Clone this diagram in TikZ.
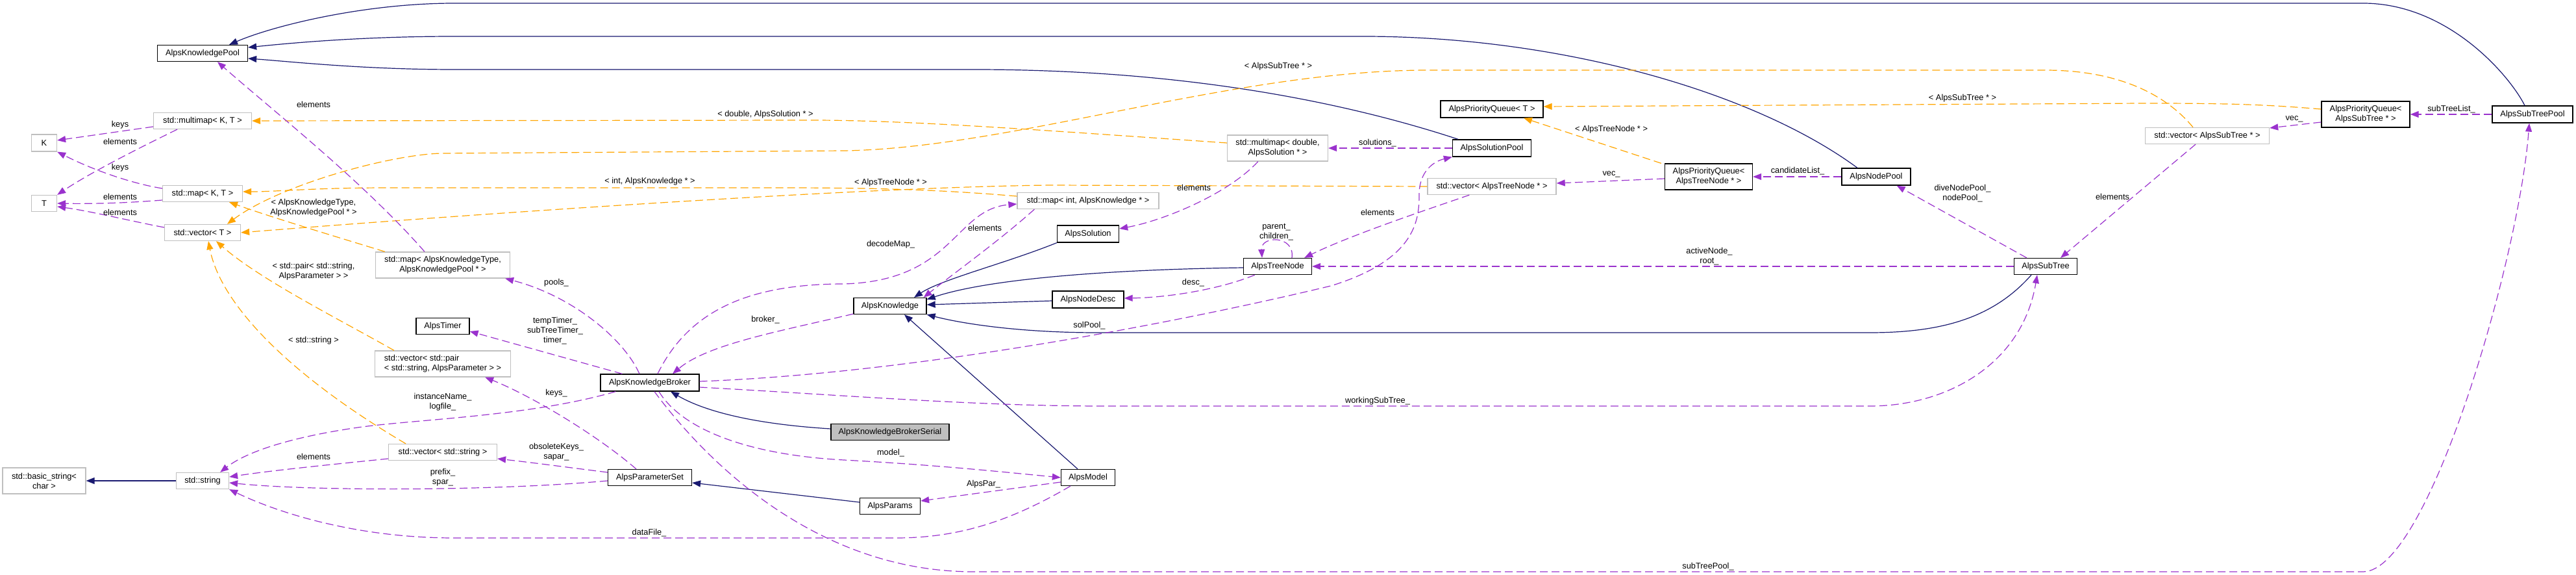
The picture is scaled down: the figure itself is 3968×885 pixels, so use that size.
\documentclass[tikz,border=0pt]{standalone}
\usepackage{fontspec}
\setmainfont{Liberation Sans}
\usepackage{tikz}
\usetikzlibrary{arrows.meta, calc}
\definecolor{inhblue}{HTML}{191970}
\definecolor{usepurple}{HTML}{9A32CD}
\definecolor{tplorange}{HTML}{FFA500}
\definecolor{stdgray}{HTML}{BFBFBF}
\newcommand{\dxfont}{\fontsize{12.8}{15}\selectfont}
\tikzset{
	classbox/.style={draw=black, line width=1.3pt, inner sep=0pt, minimum height=25pt, font=\dxfont, align=center}
}
\tikzset{
	stdbox/.style={classbox, draw=stdgray}
}
\tikzset{
	edgetext/.style={font=\dxfont, inner sep=0pt, align=center}
}
\tikzset{
  inherit/.style={draw=inhblue, line width=1.2pt, -{Triangle[length=13pt,width=10pt]}},
  member/.style={draw=usepurple, line width=1.2pt, dash pattern=on 12pt off 6pt, -{Triangle[length=13pt,width=10pt]}},
  templ/.style={draw=tplorange, line width=1.2pt, dash pattern=on 12pt off 6pt, -{Triangle[length=13pt,width=10pt]}}
}

\begin{document}
\begin{tikzpicture}[x=1pt, y=-1pt]
      \useasboundingbox (0,0) rectangle (3968,885);
      \node[classbox, minimum width=139pt] (kpool) at (312,82) {AlpsKnowledgePool};
      \node[stdbox, minimum width=151pt] (mmKT) at (312,186) {std::multimap< K, T >};
      \node[stdbox, minimum width=39pt, minimum height=26pt] (K) at (68,220) {K};
      \node[stdbox, minimum width=39pt] (T) at (68,313) {T};
      \node[stdbox, minimum width=123pt] (mapKT) at (312,298) {std::map< K, T >};
      \node[stdbox, minimum width=117pt] (vecT) at (312,358) {std::vector< T >};
      \node[stdbox, minimum width=207pt, minimum height=40pt] (mapKP) at (682,408) {std::map< AlpsKnowledgeType,\\AlpsKnowledgePool * >};
      \node[stdbox, minimum width=128pt, minimum height=40pt] (bstr) at (68,740) {std::basic\_string<\\char >};
      \node[stdbox, minimum width=81pt] (str) at (312,740) {std::string};
      \node[classbox, minimum width=82pt] (timer) at (682,502) {AlpsTimer};
      \node[stdbox, minimum width=209pt, minimum height=40pt, align=left] (vecPair) at (682,560) {std::vector< std::pair\\< std::string, AlpsParameter > >};
      \node[stdbox, minimum width=167pt] (vecStr) at (682,696) {std::vector< std::string >};
      \node[classbox, minimum width=152pt, minimum height=26pt] (broker) at (1001,589) {AlpsKnowledgeBroker};
      \node[classbox, minimum width=129pt] (pset) at (1001,735) {AlpsParameterSet};
      \node[classbox, minimum width=112pt] (know) at (1371,471) {AlpsKnowledge};
      \node[classbox, minimum width=182pt, fill=stdgray] (serial) at (1371,665) {AlpsKnowledgeBrokerSerial};
      \node[classbox, minimum width=93pt] (params) at (1371,779) {AlpsParams};
      \node[stdbox, minimum width=218pt] (mapInt) at (1676,309) {std::map< int, AlpsKnowledge * >};
      \node[classbox, minimum width=95pt, minimum height=26pt] (sol) at (1676,360) {AlpsSolution};
      \node[classbox, minimum width=110pt, minimum height=26pt] (ndesc) at (1676,461) {AlpsNodeDesc};
      \node[classbox, minimum width=83pt] (model) at (1676,735) {AlpsModel};
      \node[stdbox, minimum width=155pt, minimum height=40pt] (mmDbl) at (1968,228) {std::multimap< double,\\AlpsSolution * >};
      \node[classbox, minimum width=105pt] (tnode) at (1968,410) {AlpsTreeNode};
      \node[classbox, minimum width=158pt, minimum height=26pt] (pqT) at (2298,168) {AlpsPriorityQueue< T >};
      \node[classbox, minimum width=121pt, minimum height=26pt] (solpool) at (2298,228) {AlpsSolutionPool};
      \node[stdbox, minimum width=198pt] (vecTN) at (2298,287) {std::vector< AlpsTreeNode * >};
      \node[classbox, minimum width=135pt, minimum height=40pt] (pqTN) at (2632,272) {AlpsPriorityQueue<\\AlpsTreeNode * >};
      \node[classbox, minimum width=106pt, minimum height=26pt] (npool) at (2890,272) {AlpsNodePool};
      \node[classbox, minimum width=97pt] (subtree) at (3151,410) {AlpsSubTree};
      \node[stdbox, minimum width=191pt] (vecST) at (3400,209) {std::vector< AlpsSubTree * >};
      \node[classbox, minimum width=136pt, minimum height=40pt] (pqST) at (3644,176) {AlpsPriorityQueue<\\AlpsSubTree * >};
      \node[classbox, minimum width=124pt, minimum height=26pt] (stpool) at (3901,176) {AlpsSubTreePool};
      % base classes
      \draw[inherit] ($(stpool.north)+(-12,0)$) .. controls (3865,115) and (3770,5) .. (3640,5) -- (700,5) .. controls (560,5) and (420,40) .. ($(kpool.north)+(41,0)$);
      \draw[inherit] ($(npool.north)+(-29,0)$) .. controls (2700,140) and (2400,56) .. (2100,56) -- (700,56) .. controls (560,56) and (450,66) .. ($(kpool.east)+(0,-9)$);
      \draw[inherit] ($(solpool.north)+(-52,0)$) .. controls (2050,150) and (1800,107) .. (1500,107) -- (700,107) .. controls (560,107) and (450,95) .. ($(kpool.east)+(0,8)$);
      \draw[inherit] ($(serial.west)+(0,-5)$) .. controls (1150,652) and (1080,630) .. ($(broker.south)+(32,0)$);
      \draw[inherit] ($(params.west)+(0,-6)$) -- ($(pset.east)+(0,8)$);
      \draw[inherit] ($(model.north)+(-16,0)$) -- ($(know.south)+(22,0)$);
      \draw[inherit] (sol.south west) .. controls (1550,405) and (1450,430) .. ($(know.north)+(37,0)$);
      \draw[inherit] ($(tnode.west)+(0,2)$) .. controls (1700,415) and (1520,430) .. ($(know.north east)+(0,3)$);
      \draw[inherit] ($(ndesc.west)+(0,2)$) -- ($(know.east)+(0,-2)$);
      \draw[inherit] ($(subtree.south)+(-22,0)$) .. controls (3070,490) and (2990,512) .. (2880,512) -- (1690,512) .. controls (1580,512) and (1490,500) .. (know.south east);
      \draw[inherit] (str.west) -- (bstr.east);
      % template instances
      \draw[templ] ($(mmDbl.west)+(0,-8)$) .. controls (1600,200) and (1400,185) .. (1250,185) -- (mmKT.east);
      \draw[templ] ($(mapInt.west)+(0,-7)$) .. controls (1450,292) and (1350,289) .. (1200,289) -- (600,289) .. controls (480,289) and (430,295) .. ($(mapKT.east)+(0,-3)$);
      \draw[templ] (vecTN.west) -- (1620,285) .. controls (1300,288) and (620,338) .. (vecT.east);
      \draw[templ] ($(vecST.north)+(-22,0)$) .. controls (3340,150) and (3270,108) .. (3150,108) -- (2200,108) .. controls (1900,108) and (1560,228) .. (1300,232) -- (680,236) .. controls (600,238) and (430,285) .. ($(vecT.north)+(38,0)$);
      \draw[templ] ($(vecPair.north)+(-75,0)$) .. controls (520,490) and (400,430) .. ($(vecT.south)+(21,0)$);
      \draw[templ] ($(vecStr.north)+(-57,0)$) .. controls (450,580) and (340,470) .. ($(vecT.south)+(9,0)$);
      \draw[templ] ($(mapKP.north west)+(15,0)$) .. controls (520,365) and (420,335) .. ($(mapKT.south)+(41,0)$);
      \draw[templ] ($(pqTN.north west)+(-5,0)$) -- ($(pqT.south)+(49,0)$);
      \draw[templ] ($(pqST.west)+(0,-8)$) .. controls (3480,160) and (3420,159) .. (3300,159) -- ($(pqT.east)+(0,-4)$);
      % members
      \draw[member] ($(mmKT.west)+(0,9)$) -- ($(K.east)+(0,-4)$);
      \draw[member] ($(mmKT.south)+(-39,0)$) .. controls (220,225) and (140,265) .. (T.north east);
      \draw[member] ($(mapKT.west)+(0,-8)$) .. controls (200,282) and (140,260) .. (K.south east);
      \draw[member] ($(mapKT.west)+(0,10)$) .. controls (200,312) and (150,314) .. (T.east);
      \draw[member] ($(vecT.west)+(0,-8)$) .. controls (200,340) and (140,325) .. ($(T.east)+(0,5)$);
      \draw[member] ($(mapKP.north)+(-28,0)$) .. controls (560,280) and (420,170) .. ($(kpool.south)+(23,0)$);
      \draw[member] ($(broker.north)+(-16,0)$) .. controls (960,520) and (880,455) .. ($(mapKP.south east)+(-8,0)$);
      \draw[member] ($(broker.north west)+(34,0)$) -- ($(timer.east)+(0,8)$);
      \draw[member] ($(pset.north)+(-21,0)$) .. controls (920,670) and (820,610) .. ($(vecPair.south east)+(-40,0)$);
      \draw[member] ($(broker.south west)+(24,0)$) .. controls (820,640) and (650,645) .. (558,657) .. controls (450,672) and (380,695) .. ($(str.north east)+(-14,0)$);
      \draw[member] ($(vecStr.west)+(0,10)$) .. controls (500,716) and (420,724) .. ($(str.east)+(0,-6)$);
      \draw[member] ($(pset.west)+(0,-8)$) .. controls (880,720) and (820,712) .. ($(vecStr.east)+(0,10)$);
      \draw[member] ($(pset.west)+(0,5)$) .. controls (760,756) and (480,756) .. ($(str.east)+(0,3)$);
      \draw[member] ($(model.south west)+(15,0)$) .. controls (1560,800) and (1480,828) .. (1380,828) -- (700,828) .. controls (550,828) and (430,790) .. (str.south east);
      \draw[member] ($(know.south west)+(0,-1)$) .. controls (1200,510) and (1090,530) .. ($(broker.north)+(35,0)$);
      \draw[member] ($(broker.north)+(12,0)$) .. controls (1060,480) and (1150,437) .. (1300,437) .. controls (1470,432) and (1470,322) .. ($(mapInt.west)+(0,5)$);
      \draw[member] ($(mapInt.south west)+(27,0)$) .. controls (1540,370) and (1470,420) .. ($(know.north east)+(-5,0)$);
      \draw[member] ($(mmDbl.south west)+(48,0)$) .. controls (1890,300) and (1790,340) .. ($(sol.east)+(0,-8)$);
      \draw[member] (solpool.west) -- (mmDbl.east);
      \draw[member] ($(tnode.north)+(22,0)$) .. controls (1995,362) and (1942,362) .. ($(tnode.north)+(-24,0)$);
      \draw[member] ($(vecTN.south west)+(65,0)$) .. controls (2200,322) and (2080,362) .. ($(tnode.north east)+(-12,0)$);
      \draw[member] (subtree.west) -- (tnode.east);
      \draw[member] ($(tnode.south west)+(18,0)$) .. controls (1880,445) and (1800,458) .. ($(ndesc.east)+(0,-2)$);
      \draw[member] ($(broker.east)+(0,-2)$) .. controls (1400,575) and (1800,500) .. (2050,440) .. controls (2180,400) and (2186,340) .. (2186,300) .. controls (2186,262) and (2210,248) .. (solpool.south west);
      \draw[member] ($(broker.east)+(0,7)$) .. controls (1300,608) and (1500,625) .. (1700,625) -- (2880,625) .. controls (3000,625) and (3115,560) .. ($(subtree.south)+(-13,0)$);
      \draw[member] ($(broker.south)+(14,0)$) .. controls (1050,660) and (1150,700) .. (1300,708) .. controls (1450,716) and (1560,728) .. (model.west);
      \draw[member] ($(model.west)+(0,7)$) -- ($(params.east)+(0,-8)$);
      \draw[member] ($(broker.south)+(7,0)$) .. controls (1080,700) and (1250,880) .. (1500,880) -- (3640,880) .. controls (3740,880) and (3880,400) .. ($(stpool.south)+(-5,0)$);
      \draw[member] ($(subtree.north west)+(20,0)$) -- ($(npool.south east)+(-22,0)$);
      \draw[member] (npool.west) -- (pqTN.east);
      \draw[member] ($(pqTN.west)+(0,3)$) -- ($(vecTN.east)+(0,-5)$);
      \draw[member] ($(vecST.south)+(-18,0)$) -- ($(subtree.north)+(23,0)$);
      \draw[member] ($(pqST.west)+(0,12)$) -- ($(vecST.east)+(0,-12)$);
      \draw[member] (stpool.west) -- (pqST.east);
      % edge labels
      \node[edgetext] (lkeysA) at (185,192) {keys};
      \node[edgetext] (lelemA) at (185,218) {elements};
      \node[edgetext] (lkeysB) at (185,258) {keys};
      \node[edgetext] (lelemB) at (185,303) {elements};
      \node[edgetext] (lelemC) at (185,327) {elements};
      \node[edgetext] (lelemD) at (483,161) {elements};
      \node[edgetext] (lakt) at (483,320) {< AlpsKnowledgeType,\\AlpsKnowledgePool * >};
      \node[edgetext] (lpair) at (483,418) {< std::pair< std::string,\\AlpsParameter > >};
      \node[edgetext] (lstring) at (483,524) {< std::string >};
      \node[edgetext] (lelemE) at (483,703) {elements};
      \node[edgetext] (ldouble) at (1179,176) {< double, AlpsSolution * >};
      \node[edgetext] (lint) at (1001,279) {< int, AlpsKnowledge * >};
      \node[edgetext] (lpools) at (857,435) {pools\_};
      \node[edgetext] (ltimer) at (855,509) {tempTimer\_\\subTreeTimer\_\\timer\_};
      \node[edgetext] (lbroker) at (1179,492) {broker\_};
      \node[edgetext] (lkeys) at (857,605) {keys\_};
      \node[edgetext] (linst) at (682,619) {instanceName\_\\logfile\_};
      \node[edgetext] (lobs) at (857,696) {obsoleteKeys\_\\sapar\_};
      \node[edgetext] (lprefix) at (682,735) {prefix\_\\spar\_};
      \node[edgetext] (ldata) at (1000,820) {dataFile\_};
      \node[edgetext] (lsubA) at (1969,102) {< AlpsSubTree * >};
      \node[edgetext] (lsols) at (2122,220) {solutions\_};
      \node[edgetext] (ltnA) at (1372,281) {< AlpsTreeNode * >};
      \node[edgetext] (lelemF) at (1839,289) {elements};
      \node[edgetext] (lelemG) at (1517,351) {elements};
      \node[edgetext] (ldecode) at (1372,376) {decodeMap\_};
      \node[edgetext] (lelemH) at (2122,327) {elements};
      \node[edgetext] (lparent) at (1966,357) {parent\_\\children\_};
      \node[edgetext] (ldesc) at (1838,435) {desc\_};
      \node[edgetext] (lsolpool) at (1678,501) {solPool\_};
      \node[edgetext] (lwork) at (2122,617) {workingSubTree\_};
      \node[edgetext] (lmodel) at (1372,697) {model\_};
      \node[edgetext] (lpar) at (1515,745) {AlpsPar\_};
      \node[edgetext] (ltnB) at (2482,199) {< AlpsTreeNode * >};
      \node[edgetext] (lvecA) at (2482,268) {vec\_};
      \node[edgetext] (lcand) at (2769,263) {candidateList\_};
      \node[edgetext] (lactive) at (2633,395) {activeNode\_\\root\_};
      \node[edgetext] (lsubB) at (3023,151) {< AlpsSubTree * >};
      \node[edgetext] (lstlist) at (3776,168) {subTreeList\_};
      \node[edgetext] (lvecB) at (3534,183) {vec\_};
      \node[edgetext] (ldive) at (3023,298) {diveNodePool\_\\nodePool\_};
      \node[edgetext] (lelemI) at (3254,303) {elements};
      \node[edgetext] (lstpool) at (2631,872) {subTreePool\_};
\end{tikzpicture}
\end{document}
